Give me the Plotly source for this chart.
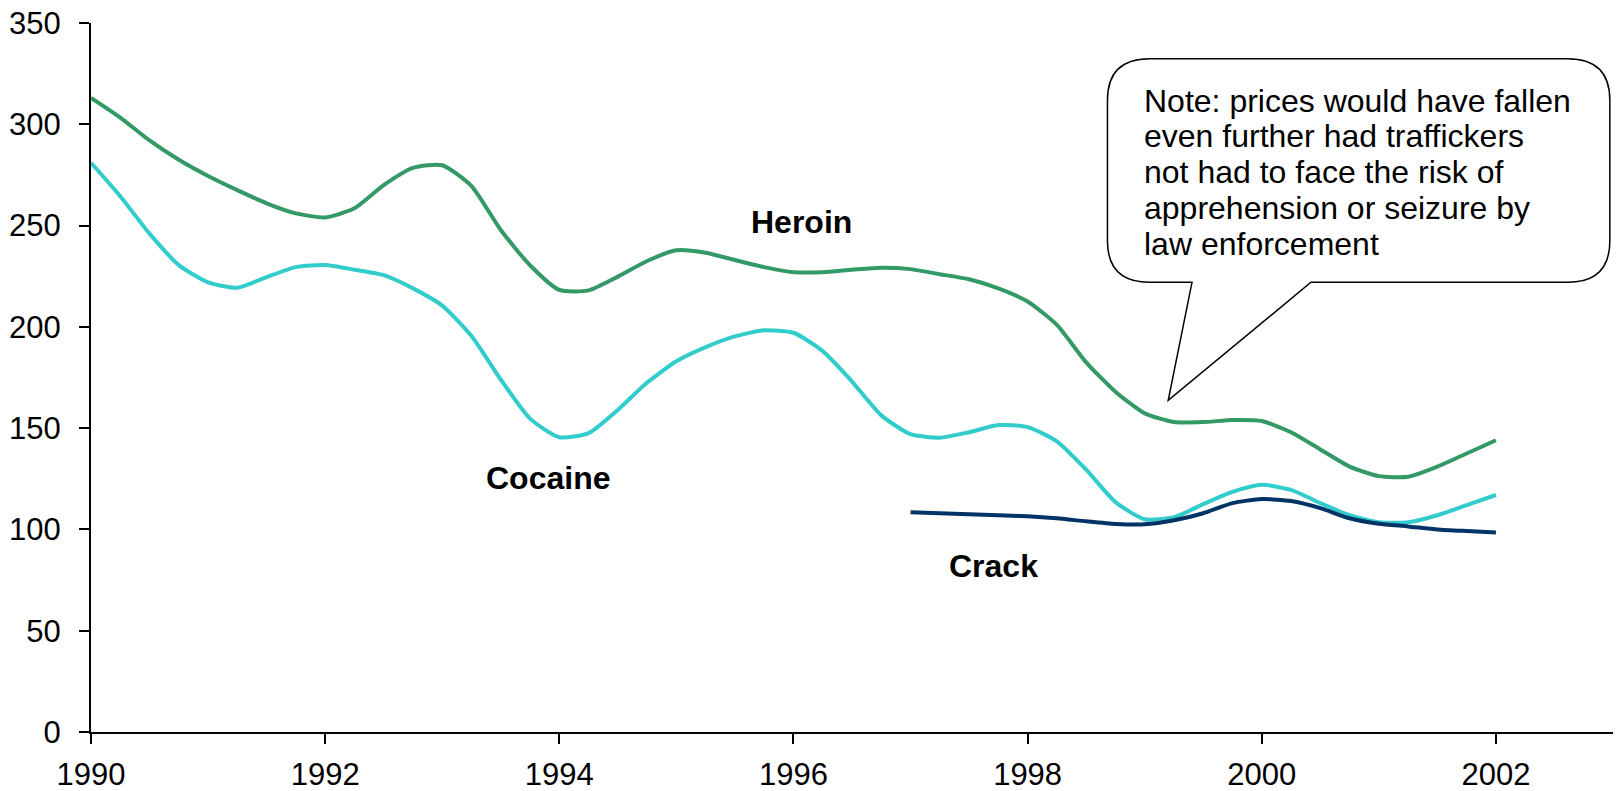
import plotly.graph_objects as go

# Quarterly time points
years = [1990 + 0.25 * i for i in range(49)]
crack_years = [1997 + 0.25 * i for i in range(21)]

heroin = [313, 303.3, 292, 282.5, 274.5, 267.5, 261, 256,
          254, 258.5, 270, 278.5, 279.8, 269.5, 247.8, 230.4,
          218.2, 218, 224.8, 232.5, 237.8, 236.6, 233, 229.5,
          227, 227, 228.2, 229.2, 228.5, 226, 223.5, 219,
          212.5, 201, 182.5, 168, 157.3, 153, 153, 154,
          153.5, 148, 139.5, 131, 126.3, 126, 131, 137.5,
          144]
cocaine = [281, 264.5, 246, 230.5, 222, 219.3, 224.6, 229.5,
           230.5, 228.2, 225.5, 219, 210.5, 195.5, 174, 154.7,
           145.5, 147.5, 159, 172.5, 183, 190, 195.3, 198.3,
           197.1, 188, 173, 156.3, 147, 145.3, 148, 151.5,
           150.5, 143.5, 129.5, 113.5, 105, 106, 112.5, 118.5,
           122, 119.5, 113, 107, 103.5, 103.5, 107, 112,
           117]
crack = [108.5, 108, 107.5, 107, 106.5, 105.5, 104, 102.7,
         102.5, 104.5, 108, 113, 115, 114, 110.5, 105.5,
         102.8, 101.5, 100, 99.2, 98.5]

x_ticks = [1990, 1992, 1994, 1996, 1998, 2000, 2002]
y_ticks = [0, 50, 100, 150, 200, 250, 300, 350]

series_labels = ["Heroin", "Cocaine", "Crack"]
note_lines = [
    "Note: prices would have fallen",
    "even further had traffickers",
    "not had to face the risk of",
    "apprehension or seizure by",
    "law enforcement",
]

FONT = "Arial, Liberation Sans, sans-serif"

fig = go.Figure()
fig.add_trace(go.Scatter(x=years, y=heroin, mode="lines", name="Heroin",
                         line=dict(color="#339966", width=4, shape="spline", smoothing=0.6)))
fig.add_trace(go.Scatter(x=years, y=cocaine, mode="lines", name="Cocaine",
                         line=dict(color="#33CCCC", width=4, shape="spline", smoothing=0.6)))
fig.add_trace(go.Scatter(x=crack_years, y=crack, mode="lines", name="Crack",
                         line=dict(color="#003366", width=4, shape="spline", smoothing=0.6)))

# Series labels
label_pos = [(1996.07, 252.0), (1993.9, 125.5), (1997.71, 82.0)]
for txt, (lx, ly) in zip(series_labels, label_pos):
    fig.add_annotation(x=lx, y=ly, text="<b>%s</b>" % txt, showarrow=False,
                       font=dict(family=FONT, size=32, color="black"),
                       xanchor="center", yanchor="middle")

# Callout box (rounded rectangle with tail), in data coordinates
L, R, T, B = 1998.682, 2002.973, 332.3, 222.0
rx, ry = 0.36, 20.5
tl, tr, tipx, tipy = 1999.404, 2000.42, 1999.201, 163.7
path = (f"M {L+rx},{T} L {R-rx},{T} Q {R},{T} {R},{T-ry} "
        f"L {R},{B+ry} Q {R},{B} {R-rx},{B} L {tr},{B} L {tipx},{tipy} "
        f"L {tl},{B} L {L+rx},{B} Q {L},{B} {L},{B+ry} L {L},{T-ry} "
        f"Q {L},{T} {L+rx},{T} Z")
fig.add_shape(type="path", path=path, xref="x", yref="y",
              line=dict(color="black", width=1.5), fillcolor="white", layer="above")

note_y = [311.5, 294.0, 276.5, 258.8, 241.0]
for txt, ny in zip(note_lines, note_y):
    fig.add_annotation(x=1998.977, y=ny, text=txt, showarrow=False,
                       font=dict(family=FONT, size=32, color="black"),
                       xanchor="left", yanchor="middle")

# The page body adds an 8 px offset, so margins are reduced by 8 on top/left
fig.update_layout(
    width=1621, height=791,
    margin=dict(l=83, r=16, t=15, b=67),
    paper_bgcolor="white", plot_bgcolor="white",
    showlegend=False,
    font=dict(family=FONT, size=31, color="black"),
    xaxis=dict(range=[1990, 2003], tickvals=x_ticks, ticks="outside", ticklen=10,
               tickwidth=2, tickcolor="black", showline=True, linecolor="black",
               linewidth=2, showgrid=False, zeroline=False, automargin=False,
               tickfont=dict(family=FONT, size=31, color="black"),
               ticklabelstandoff=4, ticklabeloverflow="allow"),
    yaxis=dict(range=[0, 350], tickvals=y_ticks, ticks="outside", ticklen=10,
               tickwidth=2, tickcolor="black", showline=True, linecolor="black",
               linewidth=2, showgrid=False, zeroline=False, automargin=False,
               tickfont=dict(family=FONT, size=31, color="black"),
               ticklabelstandoff=12, ticklabeloverflow="allow"),
    hovermode=False,
)

fig.write_html("out.html")
